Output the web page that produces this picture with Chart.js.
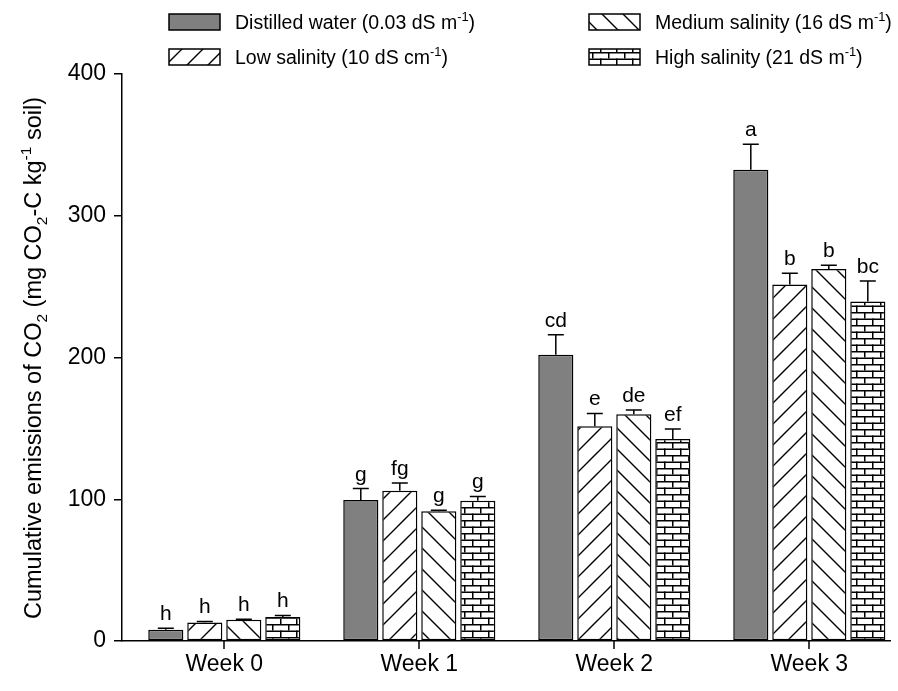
<!DOCTYPE html>
<html>
<head>
<meta charset="utf-8">
<script src="https://cdn.jsdelivr.net/npm/chart.js@4.4.0/dist/chart.umd.min.js"></script>
<style>
  html, body { margin: 0; padding: 0; background: #ffffff; }
  #wrap { width: 898px; height: 691px; position: relative; }
</style>
</head>
<body>
<div id="wrap"><canvas id="c" width="898" height="691"></canvas></div>
<script>
// Sampling weeks
const weeks = ['Week 0', 'Week 1', 'Week 2', 'Week 3'];

// Cumulative CO2 emissions (mg CO2-C kg-1 soil), mean and upper error
const distilled    = [8, 99.5, 202, 332.5];
const distilledErr = [1, 8, 14, 18];
const lowSal       = [13, 106, 151.5, 251.5];
const lowSalErr    = [0.8, 5.5, 9, 8];
const mediumSal    = [15, 91.5, 160, 262.5];
const mediumSalErr = [0.4, 0.8, 3, 2.5];
const highSal      = [17, 99, 142.5, 239.5];
const highSalErr   = [1, 3, 7, 14.5];

// Significance letters above each bar
const distilledLetters = ['h', 'g', 'cd', 'a'];
const lowLetters       = ['h', 'fg', 'e', 'b'];
const mediumLetters    = ['h', 'g', 'de', 'b'];
const highLetters      = ['h', 'g', 'ef', 'bc'];

// Y axis ticks
const yTicks = [0, 100, 200, 300, 400];

const FONT = '"Liberation Sans", Arial, Helvetica, sans-serif';

// ---- fill patterns ----
function hatchPattern(forward) {
  const s = 21;
  const c = document.createElement('canvas');
  c.width = s; c.height = s;
  const g = c.getContext('2d');
  g.fillStyle = '#ffffff';
  g.fillRect(0, 0, s, s);
  g.strokeStyle = '#000000';
  g.lineWidth = 1.4;
  g.beginPath();
  if (forward) {
    g.moveTo(-1, s + 1); g.lineTo(s + 1, -1);
    g.moveTo(-1, 1); g.lineTo(1, -1);
    g.moveTo(s - 1, s + 1); g.lineTo(s + 1, s - 1);
  } else {
    g.moveTo(-1, -1); g.lineTo(s + 1, s + 1);
    g.moveTo(s - 1, -1); g.lineTo(s + 1, 1);
    g.moveTo(-1, s - 1); g.lineTo(1, s + 1);
  }
  g.stroke();
  return g.createPattern(c, 'repeat');
}

function brickPattern() {
  const w = 16, h = 13;
  const c = document.createElement('canvas');
  c.width = w; c.height = h;
  const g = c.getContext('2d');
  g.fillStyle = '#ffffff';
  g.fillRect(0, 0, w, h);
  g.fillStyle = '#000000';
  g.fillRect(0, 0, w, 1.5);
  g.fillRect(0, 6.5, w, 1.5);
  g.fillRect(0, 0, 1.5, 6.5);
  g.fillRect(8, 6.5, 1.5, 6.5);
  return g.createPattern(c, 'repeat');
}

const grayFill = '#808080';
const lowFill = hatchPattern(true);
const medFill = hatchPattern(false);
const highFill = brickPattern();

function toPoints(vals) { return vals.map((v, i) => ({ x: i, y: v })); }

const seriesInfo = [
  { label: 'Distilled water', data: distilled, err: distilledErr, letters: distilledLetters, fill: grayFill },
  { label: 'Low salinity', data: lowSal, err: lowSalErr, letters: lowLetters, fill: lowFill },
  { label: 'Medium salinity', data: mediumSal, err: mediumSalErr, letters: mediumLetters, fill: medFill },
  { label: 'High salinity', data: highSal, err: highSalErr, letters: highLetters, fill: highFill }
];

// ---- rich text helper (sub/superscripts) ----
function richWidth(ctx, parts, size) {
  let w = 0;
  for (const p of parts) {
    const fs = (p.sub || p.sup) ? size * 0.66 : size;
    ctx.font = fs + 'px ' + FONT;
    w += ctx.measureText(p.t).width;
  }
  return w;
}
function drawRich(ctx, parts, x, y, size) {
  let cx = x;
  ctx.textBaseline = 'alphabetic';
  ctx.textAlign = 'left';
  for (const p of parts) {
    const fs = (p.sub || p.sup) ? size * 0.66 : size;
    ctx.font = fs + 'px ' + FONT;
    let dy = 0;
    if (p.sub) dy = size * 0.25;
    if (p.sup) dy = -size * 0.42;
    ctx.fillText(p.t, cx, y + dy);
    cx += ctx.measureText(p.t).width;
  }
  return cx;
}

const yTitle = [
  { t: 'Cumulative emissions of CO' }, { t: '2', sub: true },
  { t: ' (mg CO' }, { t: '2', sub: true },
  { t: '-C kg' }, { t: '-1', sup: true }, { t: ' soil)' }
];

const legendItems = [
  { fill: grayFill, x: 169, y: 14, parts: [{ t: 'Distilled water (0.03 dS m' }, { t: '-1', sup: true }, { t: ')' }] },
  { fill: lowFill, x: 169, y: 49, parts: [{ t: 'Low salinity (10 dS cm' }, { t: '-1', sup: true }, { t: ')' }] },
  { fill: medFill, x: 589, y: 14, parts: [{ t: 'Medium salinity (16 dS m' }, { t: '-1', sup: true }, { t: ')' }] },
  { fill: highFill, x: 589, y: 49, parts: [{ t: 'High salinity (21 dS m' }, { t: '-1', sup: true }, { t: ')' }] }
];

const decorPlugin = {
  id: 'decor',
  afterDatasetsDraw(chart) {
    const ctx = chart.ctx;
    const ys = chart.scales.y;
    const xs = chart.scales.x;
    const base = ys.getPixelForValue(0);
    ctx.save();
    // category tick marks below the x axis
    ctx.fillStyle = '#000';
    weeks.forEach((w, i) => {
      const px = Math.round(xs.getPixelForValue(i));
      ctx.fillRect(px - 0.75, base, 1.5, 8);
    });
    chart.data.datasets.forEach((ds, di) => {
      const meta = chart.getDatasetMeta(di);
      const info = seriesInfo[di];
      meta.data.forEach((bar, j) => {
        const v = info.data[j];
        const capY = ys.getPixelForValue(v + info.err[j]);
        const topY = ys.getPixelForValue(v);
        ctx.strokeStyle = '#000';
        ctx.lineWidth = 1.5;
        ctx.beginPath();
        ctx.moveTo(bar.x, topY);
        ctx.lineTo(bar.x, capY);
        ctx.moveTo(bar.x - 8, capY);
        ctx.lineTo(bar.x + 8, capY);
        ctx.stroke();
        ctx.fillStyle = '#000';
        ctx.font = '21px ' + FONT;
        ctx.textAlign = 'center';
        ctx.textBaseline = 'alphabetic';
        ctx.fillText(info.letters[j], bar.x, capY - 8);
      });
    });
    ctx.restore();
  },
  afterDraw(chart) {
    const ctx = chart.ctx;
    ctx.save();
    ctx.fillStyle = '#000';
    // rotated axis title
    ctx.save();
    ctx.translate(41, 358);
    ctx.rotate(-Math.PI / 2);
    const tw = richWidth(ctx, yTitle, 23.5);
    drawRich(ctx, yTitle, -tw / 2, 0, 23.5);
    ctx.restore();
    // legend
    for (const it of legendItems) {
      ctx.fillStyle = it.fill;
      ctx.fillRect(it.x, it.y, 51, 16);
      ctx.strokeStyle = '#000';
      ctx.lineWidth = 1.5;
      ctx.strokeRect(it.x, it.y, 51, 16);
      ctx.fillStyle = '#000';
      drawRich(ctx, it.parts, it.x + 66, it.y + 15, 19.5);
    }
    ctx.restore();
  }
};

new Chart(document.getElementById('c'), {
  type: 'bar',
  data: {
    datasets: seriesInfo.map(s => ({
      label: s.label,
      data: toPoints(s.data),
      backgroundColor: s.fill,
      borderColor: '#000000',
      borderWidth: 1.5,
      borderSkipped: false,
      categoryPercentage: 0.8,
      barPercentage: 0.9
    }))
  },
  options: {
    responsive: false,
    animation: false,
    devicePixelRatio: 1,
    layout: { padding: { left: 0, right: 8, top: 74, bottom: 0 } },
    plugins: { legend: { display: false }, tooltip: { enabled: false } },
    scales: {
      x: {
        type: 'linear',
        min: -0.5246,
        max: 3.4138,
        offset: false,
        afterBuildTicks(scale) { scale.ticks = weeks.map((w, i) => ({ value: i })); },
        ticks: {
          autoSkip: false,
          maxRotation: 0,
          includeBounds: false,
          color: '#000',
          font: { family: FONT, size: 23 },
          padding: 3,
          callback: (v) => weeks[v] !== undefined ? weeks[v] : ''
        },
        grid: { display: false, drawTicks: true, tickLength: 7 },
        border: { display: true, color: '#000', width: 1.5 },
        afterFit(scale) { scale.height = 50; }
      },
      y: {
        min: 0,
        max: 400,
        afterBuildTicks(scale) { scale.ticks = yTicks.map(v => ({ value: v })); },
        ticks: { color: '#000', font: { family: FONT, size: 23 }, padding: 8 },
        grid: { display: true, drawOnChartArea: false, drawTicks: true, tickLength: 8, color: '#000', lineWidth: 1.5 },
        border: { display: true, color: '#000', width: 1.5 },
        afterFit(scale) { scale.width = 122; }
      }
    }
  },
  plugins: [decorPlugin]
});
</script>
</body>
</html>
